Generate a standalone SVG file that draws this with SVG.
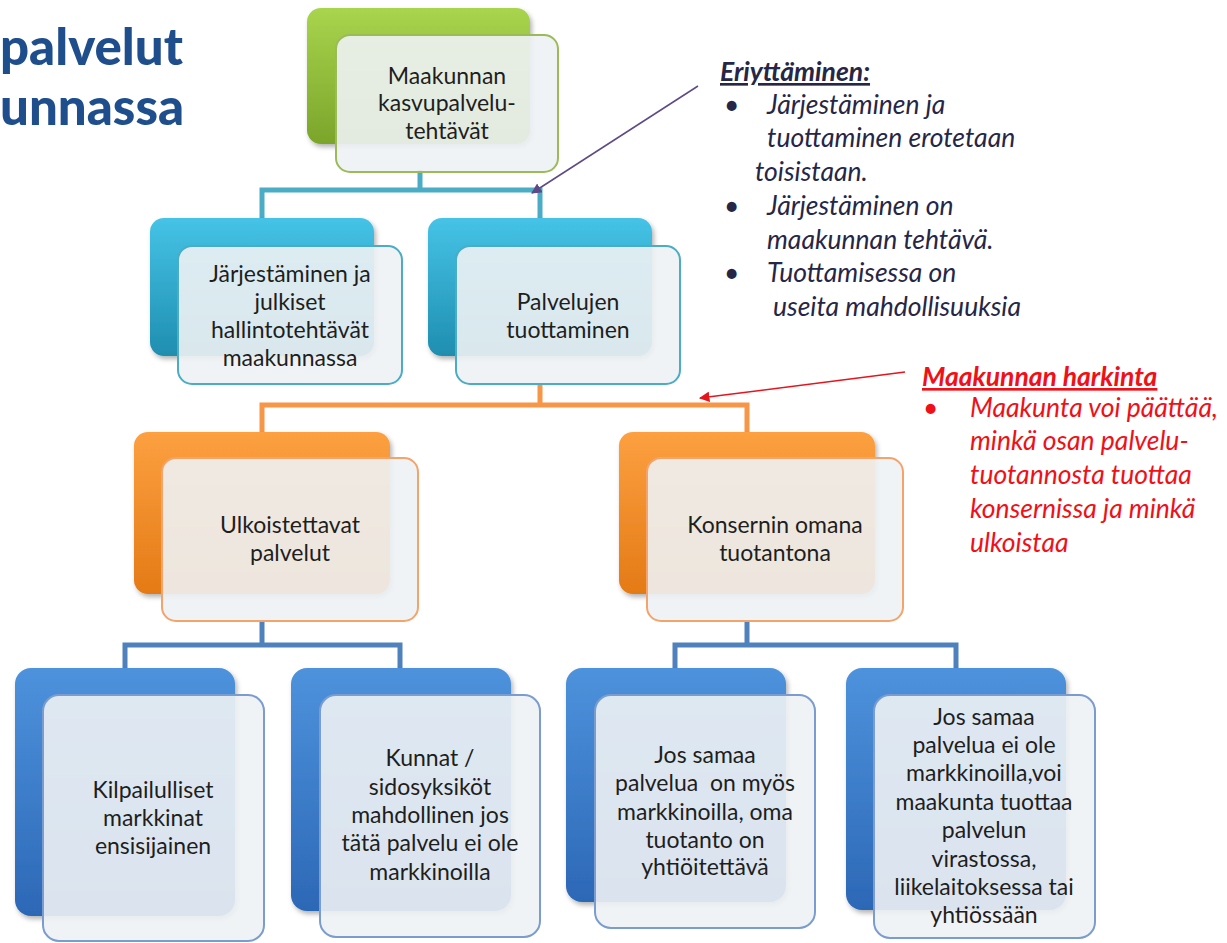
<svg xmlns="http://www.w3.org/2000/svg" width="1227" height="943" viewBox="0 0 1227 943">
<defs>
<linearGradient id="gGreen" x1="0" y1="0" x2="0" y2="1"><stop offset="0" stop-color="#a9d44e"/><stop offset="1" stop-color="#7aa52a"/></linearGradient>
<linearGradient id="gTeal" x1="0" y1="0" x2="0" y2="1"><stop offset="0" stop-color="#45c3e6"/><stop offset="1" stop-color="#1f8eb0"/></linearGradient>
<linearGradient id="gOrange" x1="0" y1="0" x2="0" y2="1"><stop offset="0" stop-color="#fca040"/><stop offset="1" stop-color="#e47a16"/></linearGradient>
<linearGradient id="gBlue" x1="0" y1="0" x2="0" y2="1"><stop offset="0" stop-color="#4e92dc"/><stop offset="1" stop-color="#2c68b6"/></linearGradient>
<filter id="sh" x="-10%" y="-10%" width="125%" height="125%"><feDropShadow dx="2" dy="3" stdDeviation="2.5" flood-color="#000" flood-opacity="0.3"/></filter>
<marker id="aPurple" viewBox="0 0 10 10" refX="9" refY="5" markerWidth="7" markerHeight="7" orient="auto"><path d="M0,0 L10,5 L0,10 z" fill="#5e4a86"/></marker>
<marker id="aRed" viewBox="0 0 10 10" refX="9" refY="5" markerWidth="7" markerHeight="7" orient="auto"><path d="M0,0 L10,5 L0,10 z" fill="#e8141c"/></marker>
</defs>
<style>
.t{font-family:Lato,"Liberation Sans",sans-serif;font-size:23px;fill:#1e1e1e;text-anchor:middle}
.front{fill:#eef2f4;fill-opacity:0.9;stroke-width:2}
.back{filter:url(#sh)}
.fg{stroke:#9bbb59}
.ft{stroke:#4bacc6}
.fo{stroke:#f4a36b}
.fb{stroke:#7a9ccf}
.conn{fill:none;stroke-width:5}
.c1{font-family:Lato,"Liberation Sans",sans-serif;font-style:italic;font-size:26.5px;fill:#262647}
.c2{font-family:Lato,"Liberation Sans",sans-serif;font-style:italic;font-size:26.5px;fill:#f01018}
.title{font-family:Lato,"Liberation Sans",sans-serif;font-weight:900;font-size:51px;fill:#1f4e8c}
</style>

<g id="title">
<text class="title" x="0" y="65">palvelut</text>
<text class="title" x="0" y="125">unnassa</text>
</g>

<g id="connectors">
<path class="conn" stroke="#4bacc6" d="M420 170 V190 M262 220 V190 H540 V220"/>
<path class="conn" stroke="#f79646" d="M540 383 V405 M262 434 V405 H747 V434"/>
<path class="conn" stroke="#4f81bd" d="M262 620 V645 M125 670 V645 H400 V670 M747 620 V645 M675 670 V645 H956 V670"/>
<line x1="698" y1="86" x2="532" y2="193" stroke="#5e4a86" stroke-width="1.5" marker-end="url(#aPurple)"/>
<line x1="905" y1="372" x2="700" y2="398" stroke="#e8141c" stroke-width="1.5" marker-end="url(#aRed)"/>
</g>

<g id="n-top">
<rect class="back" x="307" y="8" width="223" height="136" rx="14" fill="url(#gGreen)"/>
<rect class="front fg" x="336" y="35" width="222" height="137" rx="14"/>
<text class="t" x="447" y="84">Maakunnan</text>
<text class="t" x="447" y="111">kasvupalvelu-</text>
<text class="t" x="447" y="139">tehtävät</text>
</g>

<g id="n-jarj">
<rect class="back" x="150" y="218" width="224" height="138" rx="14" fill="url(#gTeal)"/>
<rect class="front ft" x="178" y="246" width="224" height="138" rx="14"/>
<text class="t" x="290" y="282">Järjestäminen ja</text>
<text class="t" x="290" y="310">julkiset</text>
<text class="t" x="290" y="338">hallintotehtävät</text>
<text class="t" x="290" y="366">maakunnassa</text>
</g>

<g id="n-palv">
<rect class="back" x="428" y="218" width="224" height="138" rx="14" fill="url(#gTeal)"/>
<rect class="front ft" x="456" y="246" width="224" height="138" rx="14"/>
<text class="t" x="568" y="310">Palvelujen</text>
<text class="t" x="568" y="338">tuottaminen</text>
</g>

<g id="n-ulko">
<rect class="back" x="134" y="432" width="256" height="162" rx="14" fill="url(#gOrange)"/>
<rect class="front fo" x="162" y="458" width="256" height="163" rx="14"/>
<text class="t" x="290" y="533">Ulkoistettavat</text>
<text class="t" x="290" y="561">palvelut</text>
</g>

<g id="n-kons">
<rect class="back" x="619" y="432" width="256" height="162" rx="14" fill="url(#gOrange)"/>
<rect class="front fo" x="647" y="458" width="256" height="163" rx="14"/>
<text class="t" x="775" y="533">Konsernin omana</text>
<text class="t" x="775" y="561">tuotantona</text>
</g>

<g id="n-kilp">
<rect class="back" x="15" y="668" width="220" height="248" rx="16" fill="url(#gBlue)"/>
<rect class="front fb" x="43" y="695" width="221" height="246" rx="16"/>
<text class="t" x="153" y="798">Kilpailulliset</text>
<text class="t" x="153" y="826">markkinat</text>
<text class="t" x="153" y="854">ensisijainen</text>
</g>

<g id="n-kunn">
<rect class="back" x="291" y="668" width="220" height="243" rx="16" fill="url(#gBlue)"/>
<rect class="front fb" x="320" y="695" width="220" height="242" rx="16"/>
<text class="t" x="430" y="766">Kunnat /</text>
<text class="t" x="430" y="795">sidosyksiköt</text>
<text class="t" x="430" y="823">mahdollinen jos</text>
<text class="t" x="430" y="851">tätä palvelu ei ole</text>
<text class="t" x="430" y="880">markkinoilla</text>
</g>

<g id="n-myos">
<rect class="back" x="566" y="668" width="220" height="234" rx="16" fill="url(#gBlue)"/>
<rect class="front fb" x="595" y="695" width="220" height="233" rx="16"/>
<text class="t" x="705" y="763">Jos samaa</text>
<text class="t" x="705" y="791" xml:space="preserve">palvelua  on myös</text>
<text class="t" x="705" y="820">markkinoilla, oma</text>
<text class="t" x="705" y="848">tuotanto on</text>
<text class="t" x="705" y="875">yhtiöitettävä</text>
</g>

<g id="n-eiole">
<rect class="back" x="846" y="668" width="220" height="242" rx="16" fill="url(#gBlue)"/>
<rect class="front fb" x="874" y="695" width="221" height="243" rx="16"/>
<text class="t" x="984" y="725">Jos samaa</text>
<text class="t" x="984" y="753">palvelua ei ole</text>
<text class="t" x="984" y="781">markkinoilla,voi</text>
<text class="t" x="984" y="810">maakunta tuottaa</text>
<text class="t" x="984" y="838">palvelun</text>
<text class="t" x="984" y="867">virastossa,</text>
<text class="t" x="984" y="895">liikelaitoksessa tai</text>
<text class="t" x="984" y="923">yhtiössään</text>
</g>

<g id="callout-eriyttaminen">
<text class="c1" x="720" y="81" font-weight="bold" text-decoration="underline">Eriyttäminen:</text>
<text class="c1" x="724" y="114">•</text>
<text class="c1" x="767" y="114">Järjestäminen ja</text>
<text class="c1" x="767" y="147">tuottaminen erotetaan</text>
<text class="c1" x="755" y="181">toisistaan.</text>
<text class="c1" x="724" y="215">•</text>
<text class="c1" x="767" y="215">Järjestäminen on</text>
<text class="c1" x="767" y="249">maakunnan tehtävä.</text>
<text class="c1" x="724" y="282">•</text>
<text class="c1" x="767" y="282">Tuottamisessa on</text>
<text class="c1" x="773" y="316">useita mahdollisuuksia</text>
</g>

<g id="callout-harkinta">
<text class="c2" x="922" y="386" font-weight="bold" text-decoration="underline">Maakunnan harkinta</text>
<text class="c2" x="923" y="417">•</text>
<text class="c2" x="970" y="417">Maakunta voi päättää,</text>
<text class="c2" x="970" y="450">minkä osan palvelu-</text>
<text class="c2" x="970" y="484">tuotannosta tuottaa</text>
<text class="c2" x="970" y="518">konsernissa ja minkä</text>
<text class="c2" x="970" y="552">ulkoistaa</text>
</g>
</svg>
